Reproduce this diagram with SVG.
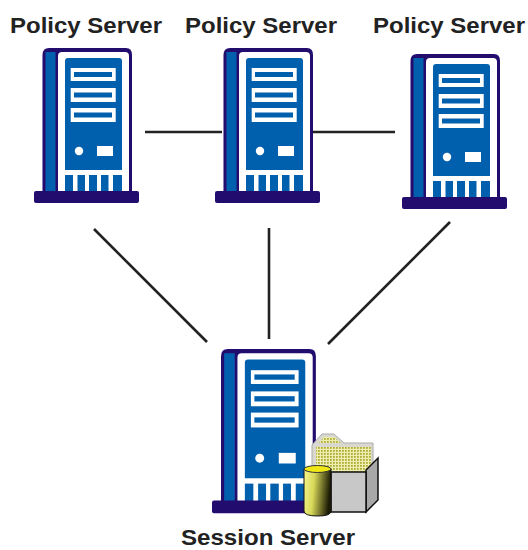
<svg xmlns="http://www.w3.org/2000/svg" width="528" height="550" viewBox="0 0 528 550">
<style>
.label{font-family:"Liberation Sans",Arial,sans-serif;font-weight:700;font-size:22px;fill:#222;text-anchor:middle}
.link{stroke:#222;stroke-width:2.6;fill:none}
.navy{fill:#220a6e}
.blue{fill:#0560ae}
.white{fill:#fff}
</style>
<defs>
<filter id="soft" x="-5%" y="-5%" width="110%" height="110%"><feGaussianBlur stdDeviation="0.45"/></filter>
<linearGradient id="cyl" x1="0" x2="1" y1="0" y2="0.15"><stop offset="0" stop-color="#f6f690"/><stop offset="0.4" stop-color="#d8d858"/><stop offset="1" stop-color="#1c1c06"/></linearGradient>
<pattern id="dots" width="3" height="3" patternUnits="userSpaceOnUse"><rect width="3" height="3" fill="#eeeeb0"/><rect width="1.8" height="1.8" fill="#b0ac38"/></pattern>
<symbol id="server" viewBox="0 0 106 156" width="106" height="156" overflow="visible">
<path class="navy" d="M8.5 146V7Q8.5 0 15 0H92Q98 0 98 7V146Z"/>
<rect class="blue" x="11.5" y="4" width="10" height="140"/>
<path class="white" d="M24 144V8Q24 4 28 4H91Q95 4 95 8V144Z"/>
<path class="blue" d="M31 122V13Q31 10 34 10H85Q88 10 88 13V122Z"/>
<g class="white">
<rect x="36.700" y="20" width="45" height="13"/>
<rect x="36.700" y="40" width="45" height="14"/>
<rect x="36.700" y="60" width="45" height="14"/>
<circle cx="45" cy="103" r="4.200"/>
<rect x="63" y="98" width="16" height="10"/>
</g>
<g class="blue">
<rect x="40" y="24" width="38" height="5"/>
<rect x="40" y="44.500" width="38" height="5"/>
<rect x="40" y="64.500" width="38" height="5"/>
<rect x="31" y="127" width="8" height="17"/>
<rect x="43.500" y="127" width="7.500" height="17"/>
<rect x="55" y="127" width="8" height="17"/>
<rect x="67" y="127" width="7.500" height="17"/>
<rect x="79" y="127" width="9" height="17"/>
</g>
<rect class="navy" x="0" y="143" width="105" height="12" rx="2"/>
</symbol>
</defs>
<rect width="528" height="550" fill="#fff"/>
<g id="connectors">
<line class="link" x1="145" y1="132" x2="222" y2="132"/>
<line class="link" x1="312" y1="132" x2="395" y2="132"/>
<line class="link" x1="94" y1="229" x2="207" y2="342"/>
<line class="link" x1="269" y1="228" x2="269" y2="339"/>
<line class="link" x1="450" y1="222" x2="328" y2="344"/>
</g>
<g id="policy-server-1"><use href="#server" x="34" y="48" filter="url(#soft)"/><text class="label" x="86" y="33" textLength="152" lengthAdjust="spacingAndGlyphs">Policy Server</text></g>
<g id="policy-server-2"><use href="#server" x="215" y="48" filter="url(#soft)"/><text class="label" x="261" y="33" textLength="152" lengthAdjust="spacingAndGlyphs">Policy Server</text></g>
<g id="policy-server-3"><use href="#server" x="402" y="54" filter="url(#soft)"/><text class="label" x="449" y="33" textLength="152" lengthAdjust="spacingAndGlyphs">Policy Server</text></g>
<g id="session-server">
<use href="#server" transform="translate(212 349) scale(1.06)" filter="url(#soft)"/>
<g filter="url(#soft)">
<path d="M312 445L322 434H334L344 443H373V472H312Z" fill="#d8d8d0" stroke="#aaa" stroke-width="1"/>
<path d="M316 447H371V472H316Z" fill="url(#dots)"/>
<path d="M319 443L324 437H334L341 443Z" fill="url(#dots)"/>
<path d="M366 512L378 500V458L366 470Z" fill="#a8a8a8" stroke="#111" stroke-width="1.500"/>
<rect x="331" y="472" width="35" height="40" fill="#c8c8c8" stroke="#111" stroke-width="1.500"/>
<path d="M304 469V511Q304 516 318 516Q331 516 331 511V469Z" fill="url(#cyl)" stroke="#111" stroke-width="1"/>
<ellipse cx="317.500" cy="469" rx="13.500" ry="3.500" fill="#f0e818" stroke="#333" stroke-width="1"/>
</g>
<text class="label" x="268" y="545" textLength="174" lengthAdjust="spacingAndGlyphs">Session Server</text>
</g>
</svg>
